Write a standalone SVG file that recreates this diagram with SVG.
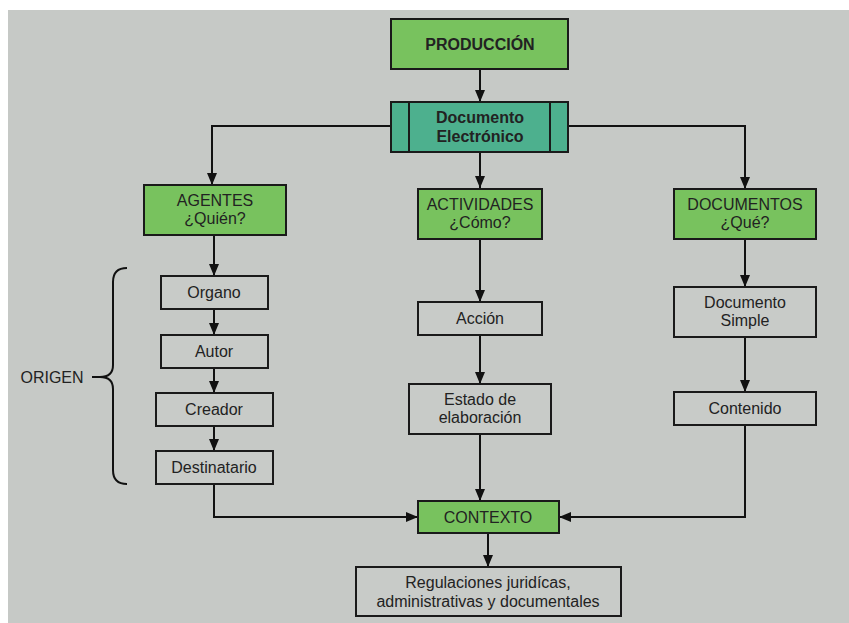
<svg xmlns="http://www.w3.org/2000/svg" width="849" height="623" viewBox="0 0 849 623">
<defs>
<marker id="ah" viewBox="0 0 12 10" refX="12" refY="5" markerWidth="12" markerHeight="10" markerUnits="userSpaceOnUse" orient="auto">
<path d="M0,0 L12,5 L0,10 Z" fill="#111"/>
</marker>
<style>
.box{fill:#c8cbc8;stroke:#1a1a1a;stroke-width:2}
.green{fill:#78c25e;stroke:#1a1a1a;stroke-width:2}
.teal{fill:#4db08e;stroke:#1a1a1a;stroke-width:2}
.t{font-family:"Liberation Sans",Arial,sans-serif;font-size:16px;fill:#222;text-anchor:middle}
.b{font-weight:bold}
.c{fill:none;stroke:#111;stroke-width:2}
</style>
</defs>
<rect x="0" y="0" width="849" height="623" fill="#ffffff"/>
<rect x="8" y="10" width="841" height="613" fill="#c6c9c6"/>

<g id="connectors">
<path class="c" d="M480,69 V102" marker-end="url(#ah)"/>
<path class="c" d="M391,126 H212 V185" marker-end="url(#ah)"/>
<path class="c" d="M480,152 V188" marker-end="url(#ah)"/>
<path class="c" d="M568,126 H745 V189" marker-end="url(#ah)"/>
<path class="c" d="M214,235 V276" marker-end="url(#ah)"/>
<path class="c" d="M214,309 V335" marker-end="url(#ah)"/>
<path class="c" d="M214,368 V393" marker-end="url(#ah)"/>
<path class="c" d="M214,426 V451" marker-end="url(#ah)"/>
<path class="c" d="M214,484 V517 H418" marker-end="url(#ah)"/>
<path class="c" d="M480,238 V302" marker-end="url(#ah)"/>
<path class="c" d="M480,335 V384" marker-end="url(#ah)"/>
<path class="c" d="M480,434 V501" marker-end="url(#ah)"/>
<path class="c" d="M745,239 V287" marker-end="url(#ah)"/>
<path class="c" d="M745,337 V392" marker-end="url(#ah)"/>
<path class="c" d="M745,425 V517 H559" marker-end="url(#ah)"/>
<path class="c" d="M488,533 V567" marker-end="url(#ah)"/>
<path class="c" d="M127,268 Q113,268 113,282 V365 Q113,377 100,377 H92 M100,377 Q113,377 113,389 V470 Q113,484 127,484"/>
</g>

<g id="produccion">
<rect class="green" x="391" y="19" width="177" height="50"/>
<text class="t b" x="480" y="50">PRODUCCIÓN</text>
</g>
<g id="documento-electronico">
<rect class="teal" x="391" y="102" width="177" height="50"/>
<line x1="409" y1="102" x2="409" y2="152" stroke="#1a1a1a" stroke-width="2"/>
<line x1="550" y1="102" x2="550" y2="152" stroke="#1a1a1a" stroke-width="2"/>
<text class="t b" x="480" y="123">Documento</text>
<text class="t b" x="480" y="142">Electrónico</text>
</g>
<g id="agentes">
<rect class="green" x="144" y="185" width="142" height="50"/>
<text class="t" x="215" y="206">AGENTES</text>
<text class="t" x="215" y="224">¿Quién?</text>
</g>
<g id="actividades">
<rect class="green" x="418" y="189" width="124" height="50"/>
<text class="t" x="480" y="210">ACTIVIDADES</text>
<text class="t" x="480" y="228">¿Cómo?</text>
</g>
<g id="documentos">
<rect class="green" x="674" y="189" width="142" height="50"/>
<text class="t" x="745" y="210">DOCUMENTOS</text>
<text class="t" x="745" y="228">¿Qué?</text>
</g>
<g id="organo">
<rect class="box" x="161" y="276" width="107" height="33"/>
<text class="t" x="214" y="298">Organo</text>
</g>
<g id="autor">
<rect class="box" x="161" y="335" width="107" height="33"/>
<text class="t" x="214" y="357">Autor</text>
</g>
<g id="creador">
<rect class="box" x="156" y="393" width="117" height="33"/>
<text class="t" x="214" y="415">Creador</text>
</g>
<g id="destinatario">
<rect class="box" x="156" y="451" width="117" height="33"/>
<text class="t" x="214" y="473">Destinatario</text>
</g>
<g id="origen">
<text class="t" x="52" y="383">ORIGEN</text>
</g>
<g id="accion">
<rect class="box" x="418" y="302" width="124" height="33"/>
<text class="t" x="480" y="324">Acción</text>
</g>
<g id="estado">
<rect class="box" x="409" y="384" width="142" height="50"/>
<text class="t" x="480" y="405">Estado de</text>
<text class="t" x="480" y="423">elaboración</text>
</g>
<g id="documento-simple">
<rect class="box" x="674" y="287" width="142" height="50"/>
<text class="t" x="745" y="308">Documento</text>
<text class="t" x="745" y="326">Simple</text>
</g>
<g id="contenido">
<rect class="box" x="674" y="392" width="142" height="33"/>
<text class="t" x="745" y="414">Contenido</text>
</g>
<g id="contexto">
<rect class="green" x="418" y="501" width="141" height="32"/>
<text class="t" x="488" y="523">CONTEXTO</text>
</g>
<g id="regulaciones">
<rect class="box" x="356" y="567" width="265" height="49"/>
<text class="t" x="488" y="588">Regulaciones juridícas,</text>
<text class="t" x="488" y="607">administrativas y documentales</text>
</g>
</svg>
